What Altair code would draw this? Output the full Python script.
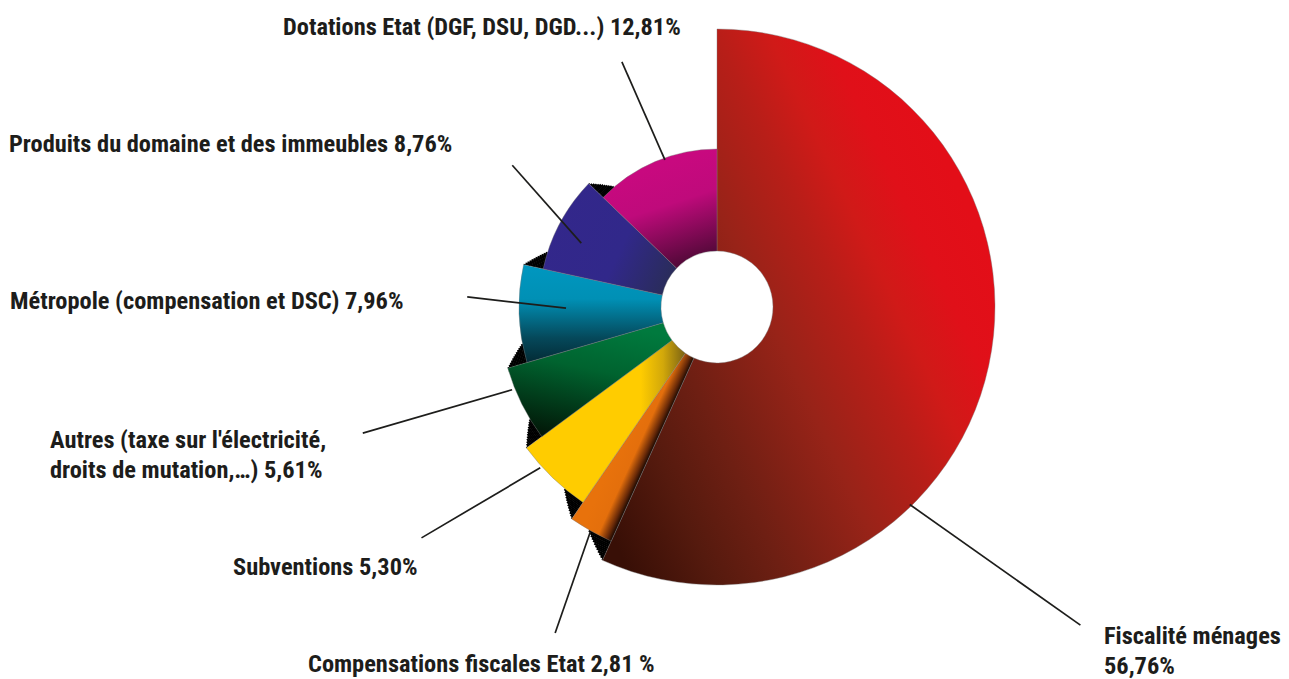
import altair as alt
import numpy as np
import pandas as pd

# ---------------- data ----------------
names = [
    "Fiscalité ménages",
    "Compensations fiscales Etat",
    "Subventions",
    "Autres",
    "Métropole",
    "Produits du domaine",
    "Dotations Etat",
]
values = [56.76, 2.81, 5.30, 5.61, 7.96, 8.76, 12.81]
labels = [
    "Fiscalité ménages\n56,76%",
    "Compensations fiscales Etat 2,81 %",
    "Subventions 5,30%",
    "Autres (taxe sur l'électricité,\ndroits de mutation,…) 5,61%",
    "Métropole (compensation et DSC) 7,96%",
    "Produits du domaine et des immeubles 8,76%",
    "Dotations Etat (DGF, DSU, DGD...) 12,81%",
]

# ---------------- layout / style ----------------
CX, CY = 717, 307
outer_r = [278, 257, 237, 218, 198, 178, 158]
INNER_R = 56
# leader lines: (angle_out deg, r_out, angle_in deg, r_in)
leaders = [
    (131.2, 483, 135.7, 276),
    (206.4, 364, 209.4, 258),
    (232.0, 375, 227.7, 239),
    (250.4, 376, 248.0, 221),
    (272.3, 250, 269.6, 151),
    (304.7, 249, 295.2, 150),
    (338.8, 263, 340.5, 156),
]
# left x, centre y of first line
label_pos = [
    (1104, 637),
    (308, 665),
    (233, 568),
    (50, 441),
    (10, 302),
    (9, 145),
    (283, 28),
]
gradients = [
    [(0, "#e30e18"), (0.12, "#e01019"), (0.23, "#d01a18"), (0.33, "#b81e18"),
     (0.49, "#982318"), (0.7, "#6e1f13"), (0.84, "#551a0e"), (1, "#380f06")],
    [(0, "#e8720c"), (0.55, "#e46f0c"), (0.85, "#6a2a08"), (1, "#1a0802")],
    [(0, "#ffcc00"), (0.72, "#ffcc00"), (0.86, "#d2a80a"), (1, "#7a6214")],
    [(0, "#007a3e"), (0.4, "#00632f"), (1, "#021808")],
    [(0, "#0097c0"), (0.35, "#0090b5"), (0.75, "#05485a"), (1, "#032b35")],
    [(0, "#33278b"), (0.6, "#31288a"), (1, "#2a2c5c")],
    [(0, "#c8097f"), (0.4, "#bf0a7b"), (1, "#55093a")],
]
grad_vec = [
    (0.95, 0.35, 0.05, 0.95),
    (0.493, 0.343, 0.686, 0.478),
    (0.0, 0.5, 1.0, 0.5),
    (0.6, 0.0, 0.3, 1.0),
    (0.5, 0.0, 0.5, 1.0),
    (0.0, 0.3, 1.0, 0.7),
    (0.3, 0.2, 0.55, 1.0),
]

total = float(sum(values))
ends = list(np.cumsum(values))
starts = [0.0] + ends[:-1]

slices = pd.DataFrame({
    "name": names, "start": starts, "end": ends,
    "r": outer_r, "r0": [INNER_R] * len(names),
    "cx": [CX] * len(names), "cy": [CY] * len(names),
})

# black "wall" triangles (staircase of thin arcs) at each step-down boundary
DELTA = 1.6  # in value units
N = 12
rows = []
for i in range(len(names) - 1):
    rb, rs = outer_r[i], outer_r[i + 1]
    h = rb - rs
    for j in range(N):
        rows.append({
            "start": ends[i],
            "end": ends[i] + DELTA * (1 - (j + 0.5) / N),
            "r0": rs + h * j / N - 0.5,
            "r": rs + h * (j + 1) / N,
            "cx": CX, "cy": CY,
        })
walls = pd.DataFrame(rows)

# leader lines
def polar(a, r):
    a = np.deg2rad(a)
    return CX + r * np.sin(a), CY - r * np.cos(a)

lx1, ly1, lx2, ly2 = [], [], [], []
for ao, ro, ai, ri in leaders:
    x1, y1 = polar(ao, ro)
    x2, y2 = polar(ai, ri)
    lx1.append(x1); ly1.append(y1); lx2.append(x2); ly2.append(y2)
lines = pd.DataFrame({"x": lx1, "y": ly1, "x2": lx2, "y2": ly2})

texts = pd.DataFrame({
    "label": labels,
    "x": [p[0] for p in label_pos],
    "y": [p[1] for p in label_pos],
})

# ---------------- scales ----------------
XS = alt.Scale(domain=[8, 1281], range=[0, 1273])
YS = alt.Scale(domain=[8, 671], range=[0, 663])
TS = alt.Scale(domain=[0, total], range=[0, 2 * np.pi])
RS = alt.Scale(type="linear", domain=[0, 500], range=[0, 500], zero=True)


def arc_base(df):
    return alt.Chart(df).encode(
        x=alt.X("cx:Q", scale=XS, axis=None),
        y=alt.Y("cy:Q", scale=YS, axis=None),
        theta=alt.Theta("start:Q", scale=TS),
        theta2="end:Q",
        radius=alt.Radius("r:Q", scale=RS),
        radius2="r0:Q",
    )


layers = [arc_base(walls).mark_arc(fill="#000000", stroke=None)]

for i, n in enumerate(names):
    x1, y1, x2, y2 = grad_vec[i]
    grad = {
        "gradient": "linear",
        "x1": x1, "y1": y1, "x2": x2, "y2": y2,
        "stops": [{"offset": o, "color": c} for o, c in gradients[i]],
    }
    layers.append(
        arc_base(slices)
        .transform_filter(alt.datum.name == n)
        .mark_arc(fill=grad, stroke="#7a7a7a", strokeWidth=0.4)
    )

rules = alt.Chart(lines).mark_rule(color="#1d1d1b", strokeWidth=1.7).encode(
    x=alt.X("x:Q", scale=XS, axis=None),
    y=alt.Y("y:Q", scale=YS, axis=None),
    x2="x2:Q",
    y2="y2:Q",
)

text = alt.Chart(texts).mark_text(
    align="left", baseline="middle",
    font="Roboto Condensed, Liberation Sans Narrow, DejaVu Sans Condensed, Roboto",
    fontSize=24.4, fontWeight="bold", color="#1d1d1b",
    lineBreak="\n", lineHeight=30,
).encode(
    x=alt.X("x:Q", scale=XS, axis=None),
    y=alt.Y("y:Q", scale=YS, axis=None),
    text="label:N",
)

chart = (
    alt.layer(*layers, rules, text)
    .properties(width=1273, height=663, padding=0, background="white")
    .configure_view(stroke=None)
)

chart.save("out.html", embed_options={"renderer": "svg", "actions": False})
